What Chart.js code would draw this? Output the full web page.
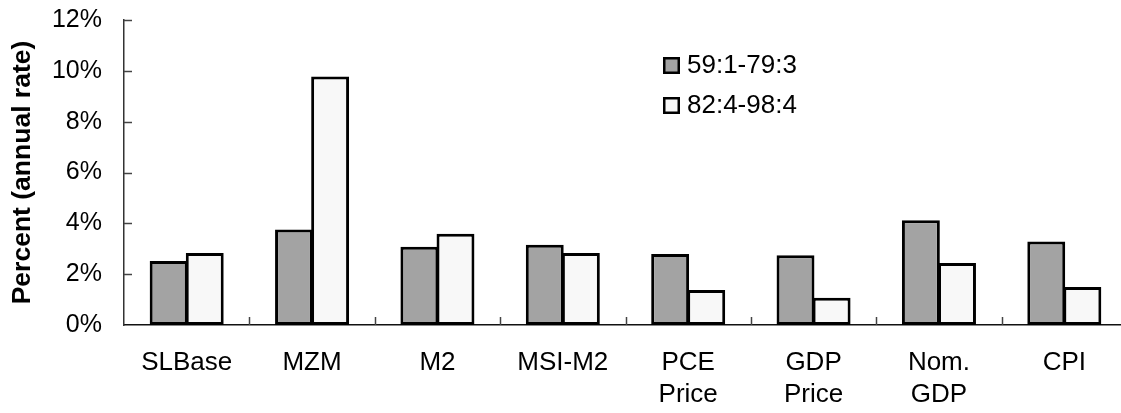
<!DOCTYPE html>
<html>
<head>
<meta charset="utf-8">
<script src="https://cdn.jsdelivr.net/npm/chart.js@4"></script>
<style>
html,body{margin:0;padding:0;overflow:hidden;background:#fff;}
#wrap{width:1127px;height:413px;position:relative;}
</style>
</head>
<body>
<div id="wrap"><canvas id="c"></canvas></div>
<script>
const categories = ['SLBase', 'MZM', 'M2', 'MSI-M2', ['PCE', 'Price'], ['GDP', 'Price'], ['Nom.', 'GDP'], 'CPI'];
const seriesNames = ['59:1-79:3', '82:4-98:4'];
const series1 = [2.52, 3.76, 3.08, 3.16, 2.79, 2.74, 4.12, 3.29];
const series2 = [2.83, 9.78, 3.59, 2.83, 1.38, 1.07, 2.44, 1.50];
const yTicks = [0, 2, 4, 6, 8, 10, 12];
const yTitle = 'Percent (annual rate)';

const FONT = "'Liberation Sans', Arial, sans-serif";

const innerTicks = {
  id: 'innerTicks',
  afterDatasetsDraw(chart) {
    const ctx = chart.ctx, x = chart.scales.x, y = chart.scales.y;
    const a = chart.chartArea;
    ctx.save();
    ctx.lineWidth = 1.5;
    ctx.strokeStyle = '#444';
    y.ticks.forEach(t => {
      if (t.value === 0) return;
      const py = Math.round(y.getPixelForValue(t.value)) + 0.5;
      ctx.beginPath(); ctx.moveTo(a.left, py); ctx.lineTo(a.left + 8, py); ctx.stroke();
    });
    for (let i = 1; i < categories.length; i++) {
      const px = Math.round((x.getPixelForValue(i - 1) + x.getPixelForValue(i)) / 2) + 0.5;
      ctx.beginPath(); ctx.moveTo(px, a.bottom); ctx.lineTo(px, a.bottom - 8); ctx.stroke();
    }
    ctx.restore();
  }
};

const boxLegend = {
  id: 'boxLegend',
  afterDraw(chart) {
    const ctx = chart.ctx;
    ctx.save();
    chart.data.datasets.forEach((ds, i) => {
      const bx = 663, by = 57 + i * 40;
      ctx.fillStyle = ds.backgroundColor;
      ctx.fillRect(bx, by, 17, 17);
      ctx.lineWidth = 2.5;
      ctx.strokeStyle = '#000';
      ctx.strokeRect(bx + 1.25, by + 1.25, 14.5, 14.5);
      ctx.fillStyle = '#000';
      ctx.font = '26px ' + FONT;
      ctx.textBaseline = 'middle';
      ctx.textAlign = 'left';
      ctx.fillText(ds.label, 687, by + 9);
    });
    ctx.restore();
  }
};

new Chart(document.getElementById('c'), {
  type: 'bar',
  data: {
    labels: categories,
    datasets: [
      { label: seriesNames[0], data: series1, backgroundColor: '#a3a3a3', borderColor: '#000', borderWidth: 3, borderSkipped: false },
      { label: seriesNames[1], data: series2, backgroundColor: '#f8f8f8', borderColor: '#000', borderWidth: 3, borderSkipped: false }
    ]
  },
  options: {
    responsive: true,
    maintainAspectRatio: false,
    animation: false,
    devicePixelRatio: 1,
    layout: { padding: { top: 20, left: 0, right: 0, bottom: 0 } },
    plugins: { legend: { display: false }, tooltip: { enabled: false } },
    datasets: { bar: { categoryPercentage: 0.576, barPercentage: 1.05 } },
    scales: {
      x: {
        offset: true,
        grid: { display: false, drawTicks: false },
        border: { display: true, color: '#111', width: 1.5 },
        ticks: { color: '#000', padding: 21.5, maxRotation: 0, autoSkip: false, font: { family: FONT, size: 26, lineHeight: 1.24 } },
        afterFit(s) { s.height = 88; }
      },
      y: {
        min: 0, max: 12,
        afterBuildTicks(s) { s.ticks = yTicks.map(v => ({ value: v })); },
        grid: { display: false, drawTicks: true, tickLength: 22 },
        border: { display: true, color: '#333', width: 1.5 },
        ticks: { color: '#000', padding: 0, font: { family: FONT, size: 25 }, callback: v => v + '%' },
        title: { display: true, text: yTitle, color: '#000', padding: { top: 7, bottom: 0 }, font: { family: FONT, size: 26.5, weight: 'bold' } },
        afterFit(s) { s.width = 124; }
      }
    }
  },
  plugins: [innerTicks, boxLegend]
});
</script>
</body>
</html>
